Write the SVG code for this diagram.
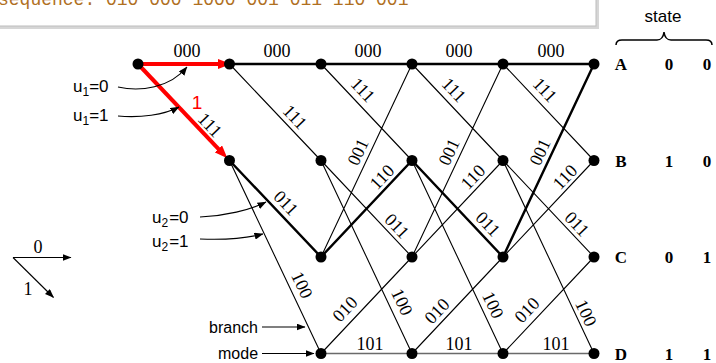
<svg xmlns="http://www.w3.org/2000/svg" width="716" height="363" viewBox="0 0 716 363">
<style>
.tn{stroke:#000;stroke-width:1.1;fill:none}
.tk{stroke:#000;stroke-width:2.4;fill:none}
.gr{stroke:#6a6a6a;stroke-width:1.6;fill:none}
.red{stroke:#f00;stroke-width:4;fill:none;marker-end:url(#ra)}
.ann{stroke:#000;stroke-width:1.1;fill:none;marker-end:url(#ba)}
.lbl text{font-family:"Liberation Serif","Times New Roman",serif;font-size:18px;text-anchor:middle;fill:#000}
.st{font-family:"Liberation Serif","Times New Roman",serif;font-size:17px;font-weight:bold;text-anchor:middle;fill:#000}
.sans{font-family:"Liberation Sans",Arial,sans-serif;font-size:17px;fill:#000}
.node{fill:#000}
</style>
<defs>
<marker id="ra" markerUnits="userSpaceOnUse" markerWidth="13" markerHeight="10" viewBox="0 0 13 10" refX="2" refY="5" orient="auto"><path d="M0,0L13,5L0,10z" fill="#f00"/></marker>
<marker id="ba" markerUnits="userSpaceOnUse" markerWidth="9" markerHeight="7" viewBox="0 0 9 7" refX="8.5" refY="3.5" orient="auto"><path d="M0,0L9,3.5L0,7z" fill="#000"/></marker>
</defs>
<g id="caption">
<rect x="-8" y="-8" width="607" height="37" fill="#d6d6d6"/>
<rect x="-10" y="-10" width="606" height="36" fill="#fff" stroke="#bdbdbd" stroke-width="1"/>
<text x="-2" y="5" font-family="'Liberation Mono','Courier New',monospace" font-size="18" fill="#b0701f">sequence: 010 000 1000 001 011 110 001</text>
</g>
<g id="connectors">
<path class="tn" d="M138,64L229.5,160.5 M229.5,64L321,160.5 M229.5,160.5L321,353.5 M321,64L412,160.5 M321,160.5L412,257 M321,160.5L412,353.5 M321,257L412,64 M321,353.5L412,257 M412,64L503,160.5 M412,160.5L503,353.5 M412,257L503,64 M412,257L503,160.5 M412,353.5L503,257 M503,64L594,160.5 M503,160.5L594,257 M503,160.5L594,353.5 M503,257L594,160.5 M503,353.5L594,257"/>
<path class="gr" d="M321,353.5H594"/>
<path class="tk" d="M138,64H594 M229.5,160.5L321,257L412,160.5L503,257L594,64"/>
<path class="red" d="M138,64H220"/>
<path class="red" d="M138,64L219.8,150.3"/>
<path class="ann" d="M118,87 C140,92 170,88 187,67"/>
<path class="ann" d="M118,116 C140,118 164,115 179,107"/>
<path class="ann" d="M200,217 C225,216 250,210 266,202"/>
<path class="ann" d="M200,239 C225,240 248,238 263,234"/>
<path class="ann" d="M262,327H305"/>
<path class="ann" d="M262,353.5H314"/>
<path class="ann" d="M13,257.5H71"/>
<path class="ann" d="M13,257.5L53.5,297.5"/>
</g>
<g id="nodes">
<g id="n0A"><circle class="node" cx="138" cy="64" r="5.5"/></g>
<g id="n1A"><circle class="node" cx="229.5" cy="64" r="5.5"/></g>
<g id="n1B"><circle class="node" cx="229.5" cy="160.5" r="5.5"/></g>
<g id="n2A"><circle class="node" cx="321" cy="64" r="5.5"/></g>
<g id="n2B"><circle class="node" cx="321" cy="160.5" r="5.5"/></g>
<g id="n2C"><circle class="node" cx="321" cy="257" r="5.5"/></g>
<g id="n2D"><circle class="node" cx="321" cy="353.5" r="5.5"/></g>
<g id="n3A"><circle class="node" cx="412" cy="64" r="5.5"/></g>
<g id="n3B"><circle class="node" cx="412" cy="160.5" r="5.5"/></g>
<g id="n3C"><circle class="node" cx="412" cy="257" r="5.5"/></g>
<g id="n3D"><circle class="node" cx="412" cy="353.5" r="5.5"/></g>
<g id="n4A"><circle class="node" cx="503" cy="64" r="5.5"/></g>
<g id="n4B"><circle class="node" cx="503" cy="160.5" r="5.5"/></g>
<g id="n4C"><circle class="node" cx="503" cy="257" r="5.5"/></g>
<g id="n4D"><circle class="node" cx="503" cy="353.5" r="5.5"/></g>
<g id="n5A"><circle class="node" cx="594" cy="64" r="5.5"/></g>
<g id="n5B"><circle class="node" cx="594" cy="160.5" r="5.5"/></g>
<g id="n5C"><circle class="node" cx="594" cy="257" r="5.5"/></g>
<g id="n5D"><circle class="node" cx="594" cy="353.5" r="5.5"/></g>
</g>
<g id="edge-labels" class="lbl">
<text transform="translate(187,51)" y="6">000</text>
<text transform="translate(277,51)" y="6">000</text>
<text transform="translate(368,51)" y="6">000</text>
<text transform="translate(459,51)" y="6">000</text>
<text transform="translate(551,51)" y="6">000</text>
<text transform="translate(210,125) rotate(46.6)" y="6">111</text>
<text transform="translate(295,117) rotate(46.6)" y="6">111</text>
<text transform="translate(363,90) rotate(46.6)" y="6">111</text>
<text transform="translate(454,90) rotate(46.6)" y="6">111</text>
<text transform="translate(545,90) rotate(46.6)" y="6">111</text>
<text transform="translate(358,152) rotate(-64.7)" y="6">001</text>
<text transform="translate(449,152) rotate(-64.7)" y="6">001</text>
<text transform="translate(540,152) rotate(-64.7)" y="6">001</text>
<text transform="translate(382,177) rotate(-46.6)" y="6">110</text>
<text transform="translate(473,177) rotate(-46.6)" y="6">110</text>
<text transform="translate(565,177) rotate(-46.6)" y="6">110</text>
<text transform="translate(286,203) rotate(46.6)" y="6">011</text>
<text transform="translate(397,226) rotate(46.6)" y="6">011</text>
<text transform="translate(488,224) rotate(46.6)" y="6">011</text>
<text transform="translate(577,224) rotate(46.6)" y="6">011</text>
<text transform="translate(302,285) rotate(64.7)" y="6">100</text>
<text transform="translate(402,302) rotate(64.7)" y="6">100</text>
<text transform="translate(493,305) rotate(64.7)" y="6">100</text>
<text transform="translate(586,313) rotate(64.7)" y="6">100</text>
<text transform="translate(345,309) rotate(-46.6)" y="6">010</text>
<text transform="translate(437,311) rotate(-46.6)" y="6">010</text>
<text transform="translate(527,310) rotate(-46.6)" y="6">010</text>
<text transform="translate(370,344)" y="6">101</text>
<text transform="translate(459,344)" y="6">101</text>
<text transform="translate(556,344)" y="6">101</text>
<text x="38" y="252.5">0</text>
<text x="28" y="295">1</text>
</g>
<text x="197" y="109" font-family="'Liberation Sans',Arial,sans-serif" font-size="19" fill="#f00" text-anchor="middle">1</text>
<g id="annotations" class="sans">
<text x="73" y="92">u<tspan font-size="12" dy="4">1</tspan><tspan dy="-4">=0</tspan></text>
<text x="73" y="121">u<tspan font-size="12" dy="4">1</tspan><tspan dy="-4">=1</tspan></text>
<text x="152" y="223">u<tspan font-size="12" dy="4">2</tspan><tspan dy="-4" dx="1">=0</tspan></text>
<text x="152" y="247">u<tspan font-size="12" dy="4">2</tspan><tspan dy="-4" dx="1">=1</tspan></text>
<text x="209" y="332.5" font-size="16">branch</text>
<text x="218" y="358.5" font-size="16">mode</text>
<text x="663" y="22" text-anchor="middle">state</text>
</g>
<path id="brace" d="M616,45 Q616,40 622,40 L657,40 Q663,40 664,32 Q665,40 671,40 L706,40 Q712,40 712,45" fill="none" stroke="#000" stroke-width="1.5"/>
<g id="state-table">
<text class="st" x="621" y="70">A</text><text class="st" x="669" y="70">0</text><text class="st" x="707" y="70">0</text>
<text class="st" x="621" y="166.5">B</text><text class="st" x="669" y="166.5">1</text><text class="st" x="707" y="166.5">0</text>
<text class="st" x="621" y="263">C</text><text class="st" x="669" y="263">0</text><text class="st" x="707" y="263">1</text>
<text class="st" x="621" y="359.5">D</text><text class="st" x="669" y="359.5">1</text><text class="st" x="707" y="359.5">1</text>
</g>
</svg>
